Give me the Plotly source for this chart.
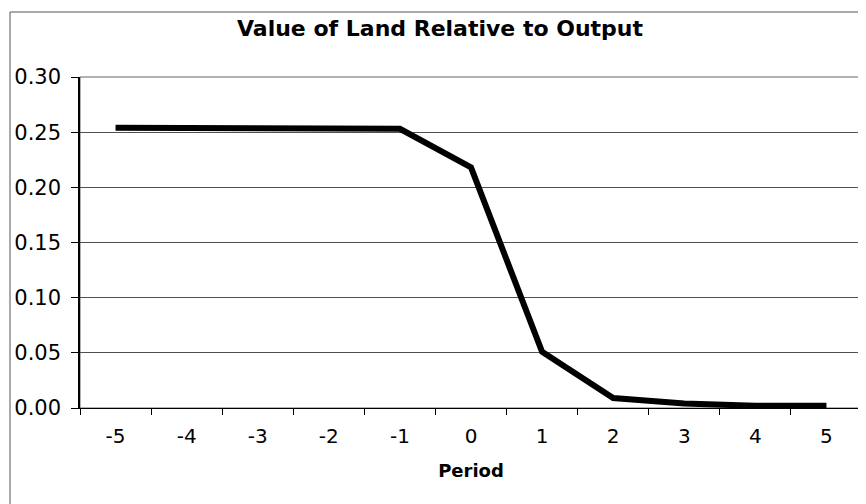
import plotly.graph_objects as go

periods = ["-5", "-4", "-3", "-2", "-1", "0", "1", "2", "3", "4", "5"]
land_value = [0.254, 0.254, 0.254, 0.254, 0.253, 0.218, 0.051, 0.009, 0.004, 0.002, 0.002]
y_ticks = [0.00, 0.05, 0.10, 0.15, 0.20, 0.25, 0.30]

W, H = 858, 496
L, R, T, B = 72, 4, 69, 96
pw, ph = W - L - R, H - T - B

fig = go.Figure()
fig.add_trace(go.Scatter(
    x=periods, y=land_value, mode="lines",
    line=dict(color="black", width=6), showlegend=False,
))

font = "DejaVu Sans, sans-serif"
fig.update_layout(
    width=W, height=H,
    margin=dict(l=L, r=R, t=T, b=B),
    paper_bgcolor="white", plot_bgcolor="white",
    title=dict(text="<b>Value of Land Relative to Output</b>", x=432 / W, xanchor="center",
               y=1 - 20 / H, yanchor="middle", font=dict(family=font, size=22, color="black")),
    font=dict(family=font, color="black"),
    xaxis=dict(
        type="category", showline=True, linecolor="black", linewidth=1,
        ticks="outside", ticklen=6, tickcolor="black", tickson="boundaries",
        showgrid=False, tickfont=dict(size=20), range=[-0.5, 10.5],
        ticklabelstandoff=10,
        title=dict(text="<b>Period</b>", font=dict(size=18), standoff=17),
    ),
    yaxis=dict(
        range=[0, 0.30], tickvals=y_ticks, tickformat=".2f",
        showline=True, linecolor="black", linewidth=1.5,
        ticks="outside", ticklen=7, tickcolor="black",
        showgrid=True, gridcolor="#505050", gridwidth=1,
        tickfont=dict(size=21), zeroline=False, ticklabelstandoff=6,
    ),
    shapes=[
        dict(type="rect", xref="paper", yref="paper",
             x0=(2 - L) / pw, x1=1.2, y0=-0.5, y1=(H - B - 4) / ph,
             line=dict(color="#555555", width=1), layer="below"),
        dict(type="rect", xref="paper", yref="paper",
             x0=0, x1=1, y0=0, y1=1,
             line=dict(color="#666666", width=1), layer="below"),
    ],
)

fig.write_html("out.html")
